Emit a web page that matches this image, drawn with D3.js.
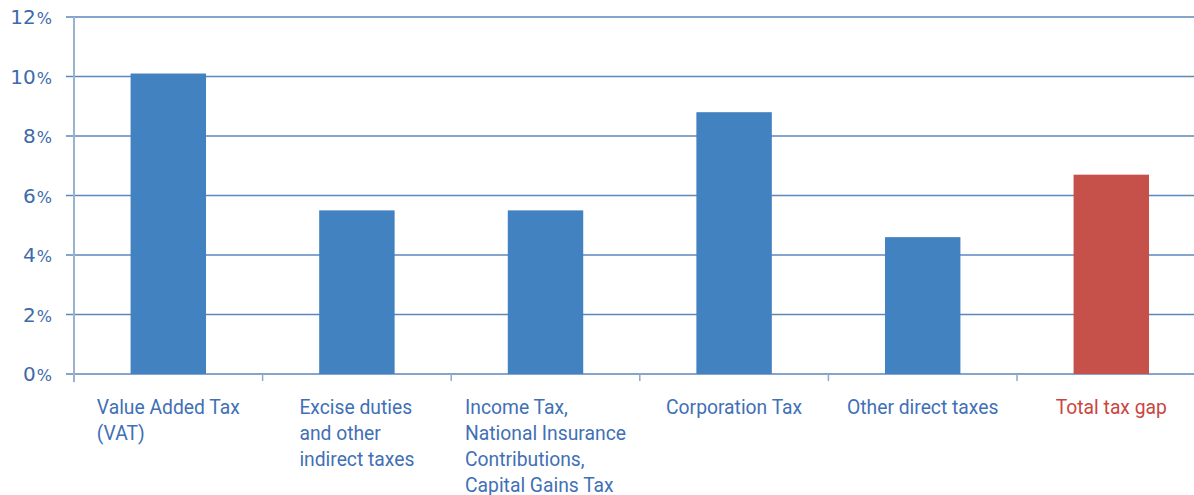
<!DOCTYPE html>
<meta charset="utf-8">
<script src="https://d3js.org/d3.v7.min.js"></script>
<style>
  body { margin: 0; background: #fff; }
</style>
<div id="my_dataviz"></div>
<script>

// chart data
const categories = [
  ["Value Added Tax", "(VAT)"],
  ["Excise duties", "and other", "indirect taxes"],
  ["Income Tax,", "National Insurance", "Contributions,", "Capital Gains Tax"],
  ["Corporation Tax"],
  ["Other direct taxes"],
  ["Total tax gap"]
];
const values = [10.1, 5.5, 5.5, 8.8, 4.6, 6.7];
const isTotal = [false, false, false, false, false, true];
const yTicks = [0, 2, 4, 6, 8, 10, 12];

const W = 1194, H = 495;
const margin = {top: 17, left: 74, bottom: 121};
const bandW = 188.6;

const svg = d3.select("#my_dataviz")
  .append("svg")
    .attr("width", W)
    .attr("height", H);

const x = d3.scaleBand()
  .domain(d3.range(categories.length))
  .range([margin.left, margin.left + bandW * categories.length])
  .paddingInner(0.6)
  .paddingOuter(0.3);

const y = d3.scaleLinear()
  .domain([0, 12])
  .range([H - margin.bottom, margin.top]);

// gridlines
svg.append("g")
  .selectAll("line")
  .data(yTicks)
  .join("line")
    .attr("x1", margin.left - 8)
    .attr("x2", W)
    .attr("y1", d => y(d))
    .attr("y2", d => y(d))
    .attr("stroke", "#5d87bb")
    .attr("stroke-width", 1.6);

// left axis line
svg.append("line")
  .attr("x1", margin.left).attr("x2", margin.left)
  .attr("y1", y(12)).attr("y2", y(0) + 8)
  .attr("stroke", "#9ab1d0")
  .attr("stroke-width", 2);

// category ticks below the axis
svg.append("g")
  .selectAll("line")
  .data(d3.range(1, categories.length))
  .join("line")
    .attr("x1", i => margin.left + i * bandW)
    .attr("x2", i => margin.left + i * bandW)
    .attr("y1", y(0))
    .attr("y2", y(0) + 7)
    .attr("stroke", "#8fa9cc")
    .attr("stroke-width", 1.5);

// y labels, with a smaller percent sign
const yl = svg.append("g")
  .selectAll("text")
  .data(yTicks)
  .join("text")
    .attr("x", 52)
    .attr("y", d => y(d) + 7)
    .attr("text-anchor", "end")
    .style("font-family", "'DejaVu Sans', sans-serif")
    .style("font-size", "20px")
    .style("fill", "#3d6aab");
yl.append("tspan").text(d => d);
yl.append("tspan").style("font-size", "16px").attr("dx", 1).text("%");

// bars
svg.append("g")
  .selectAll("rect")
  .data(values)
  .join("rect")
    .attr("x", (d, i) => x(i))
    .attr("width", x.bandwidth())
    .attr("y", d => y(d))
    .attr("height", d => y(0) - y(d))
    .attr("fill", (d, i) => isTotal[i] ? "#c5514a" : "#4382c0");

// category labels: block centred in band, lines left-aligned
categories.forEach(function(lines, i) {
  const colour = isTotal[i] ? "#c9463f" : "#3f70b6";
  const t = svg.append("g").selectAll("text")
    .data(lines)
    .join("text")
      .attr("y", (d, j) => 414 + j * 26)
      .style("font-family", "Roboto, sans-serif")
      .style("font-size", "19.3px")
      .style("fill", colour)
      .text(d => d);
  let maxW = 0;
  t.each(function() { maxW = Math.max(maxW, this.getComputedTextLength()); });
  const cx = x(i) + x.bandwidth() / 2;
  t.attr("x", cx - maxW / 2);
});

</script>
